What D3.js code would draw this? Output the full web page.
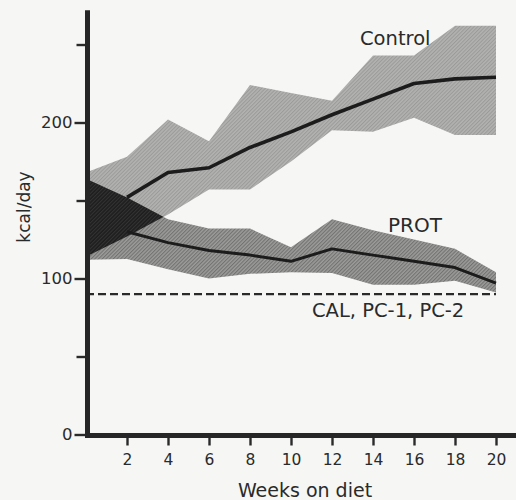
<!DOCTYPE html>
<html>
<head>
<meta charset="utf-8">
<script src="https://cdn.jsdelivr.net/npm/d3@7"></script>
<style>
  html, body { margin: 0; padding: 0; background: #f6f6f4; }
  svg { display: block; }
  text { font-family: "DejaVu Sans", sans-serif; fill: #2a2a2a; }
</style>
</head>
<body>
<div id="chart"></div>
<script>
// ---- data ----
const weeks        = [0, 2, 4, 6, 8, 10, 12, 14, 16, 18, 20];
const controlMean  = [null, 152, 168, 171, 184, 194, 205, 215, 225, 228, 229];
const controlUpper = [168, 178, 202, 188, 224, 219, 214, 243, 243, 262, 262];
const controlLower = [114, 127, 141, 157, 157, 175, 195, 194, 203, 192, 192];
const protMean     = [null, 130, 123, 118, 115, 111, 119, 115, 111, 107, 97];
const protUpper    = [164, 152, 138, 132, 132, 120, 138, 131, 125, 119, 104];
const protLower    = [112, 112.5, 106, 100, 103, 104, 103.5, 96, 96, 98.5, 91];
const restrictedLevel = 90;           // CAL, PC-1, PC-2
const xTicks = [2, 4, 6, 8, 10, 12, 14, 16, 18, 20];
const yTicksMajor = [0, 100, 200];
const yTicksMinor = [50, 150, 250];
const labels = { control: "Control", prot: "PROT", cal: "CAL, PC-1, PC-2",
                 xTitle: "Weeks on diet", yTitle: "kcal/day" };

// ---- layout ----
const W = 516, H = 500;
const svg = d3.select("#chart").append("svg").attr("width", W).attr("height", H);
svg.append("rect").attr("width", W).attr("height", H).attr("fill", "#f6f6f4");

const x = d3.scaleLinear().domain([0, 21]).range([86, 516.5]);
const y = d3.scaleLinear().domain([0, 272]).range([434.5, 10.2]);

// ---- hatch patterns ----
const defs = svg.append("defs");
function hatch(id, bg, fg, w) {
  const p = defs.append("pattern").attr("id", id).attr("patternUnits", "userSpaceOnUse")
    .attr("width", 2.6).attr("height", 2.6).attr("patternTransform", "rotate(45)");
  p.append("rect").attr("width", 2.6).attr("height", 2.6).attr("fill", bg);
  p.append("rect").attr("width", w).attr("height", 2.6).attr("fill", fg);
}
hatch("hControl", "#b2b2b0", "#9a9a98", 1);
hatch("hProt", "#9c9c9a", "#727270", 1.1);
hatch("hBoth", "#1e1e1e", "#343434", 1);

const ctrl = weeks.map((w, i) => ({ w, lo: controlLower[i], hi: controlUpper[i], m: controlMean[i] }));
const prot = weeks.map((w, i) => ({ w, lo: protLower[i], hi: protUpper[i], m: protMean[i] }));

const area = d3.area().x(d => x(d.w)).y0(d => y(d.lo)).y1(d => y(d.hi));
const line = d3.line().defined(d => d.m != null).x(d => x(d.w)).y(d => y(d.m));

defs.append("clipPath").attr("id", "clipCtrl").append("path").attr("d", area(ctrl));

svg.append("path").attr("d", area(ctrl)).attr("fill", "url(#hControl)");
svg.append("path").attr("d", area(prot)).attr("fill", "url(#hProt)");
svg.append("path").attr("d", area(prot)).attr("fill", "url(#hBoth)").attr("clip-path", "url(#clipCtrl)");

// dashed restricted line
svg.append("line")
  .attr("x1", x(0)).attr("x2", x(20)).attr("y1", y(restrictedLevel)).attr("y2", y(restrictedLevel))
  .attr("stroke", "#2a2a2a").attr("stroke-width", 2.2).attr("stroke-dasharray", "8,4");

// mean lines
svg.append("path").attr("d", line(ctrl)).attr("fill", "none")
  .attr("stroke", "#1c1c1c").attr("stroke-width", 3.6).attr("stroke-linejoin", "round");
svg.append("path").attr("d", line(prot)).attr("fill", "none")
  .attr("stroke", "#1c1c1c").attr("stroke-width", 3).attr("stroke-linejoin", "round");

// ---- axes ----
const xAxis = d3.axisBottom(x).tickValues(xTicks).tickSize(10).tickSizeOuter(0).tickPadding(8);
const gx = svg.append("g").attr("transform", `translate(0,${y(0) + 1})`).call(xAxis);
gx.select(".domain").remove();
gx.selectAll(".tick line").attr("stroke", "#2a2a2a").attr("stroke-width", 2.4);
gx.selectAll(".tick text").attr("font-size", 15.5).attr("fill", "#2a2a2a");

const yAxis = d3.axisLeft(y).tickValues(yTicksMajor).tickSize(13).tickSizeOuter(0).tickPadding(2);
const gy = svg.append("g").attr("transform", "translate(87.5,0)").call(yAxis);
gy.select(".domain").remove();
gy.selectAll(".tick line").attr("stroke", "#2a2a2a").attr("stroke-width", 2.4);
gy.selectAll(".tick text").attr("font-size", 16.5).attr("fill", "#2a2a2a");

const yMinor = d3.axisLeft(y).tickValues(yTicksMinor).tickSize(11).tickFormat("");
const gym = svg.append("g").attr("transform", "translate(87.5,0)").call(yMinor);
gym.select(".domain").remove();
gym.selectAll(".tick line").attr("stroke", "#2a2a2a").attr("stroke-width", 2.4);

// axis lines (thick)
svg.append("line").attr("x1", 87.5).attr("x2", 87.5).attr("y1", y(272)).attr("y2", y(0) + 3.5)
  .attr("stroke", "#262626").attr("stroke-width", 5);
svg.append("line").attr("x1", 85).attr("x2", x(21)).attr("y1", y(0) + 1).attr("y2", y(0) + 1)
  .attr("stroke", "#262626").attr("stroke-width", 5);

// ---- titles and labels ----
svg.append("text").attr("x", 305).attr("y", 497).attr("text-anchor", "middle")
  .attr("font-size", 19).text(labels.xTitle);
svg.append("text").attr("transform", "translate(30,207) rotate(-90)").attr("text-anchor", "middle")
  .attr("font-size", 17).text(labels.yTitle);

svg.append("text").attr("x", 360).attr("y", 45).attr("font-size", 19.5).text(labels.control);
svg.append("text").attr("x", 388).attr("y", 232).attr("font-size", 20).text(labels.prot);
svg.append("text").attr("x", 312).attr("y", 317).attr("font-size", 19.5).text(labels.cal);
</script>
</body>
</html>
